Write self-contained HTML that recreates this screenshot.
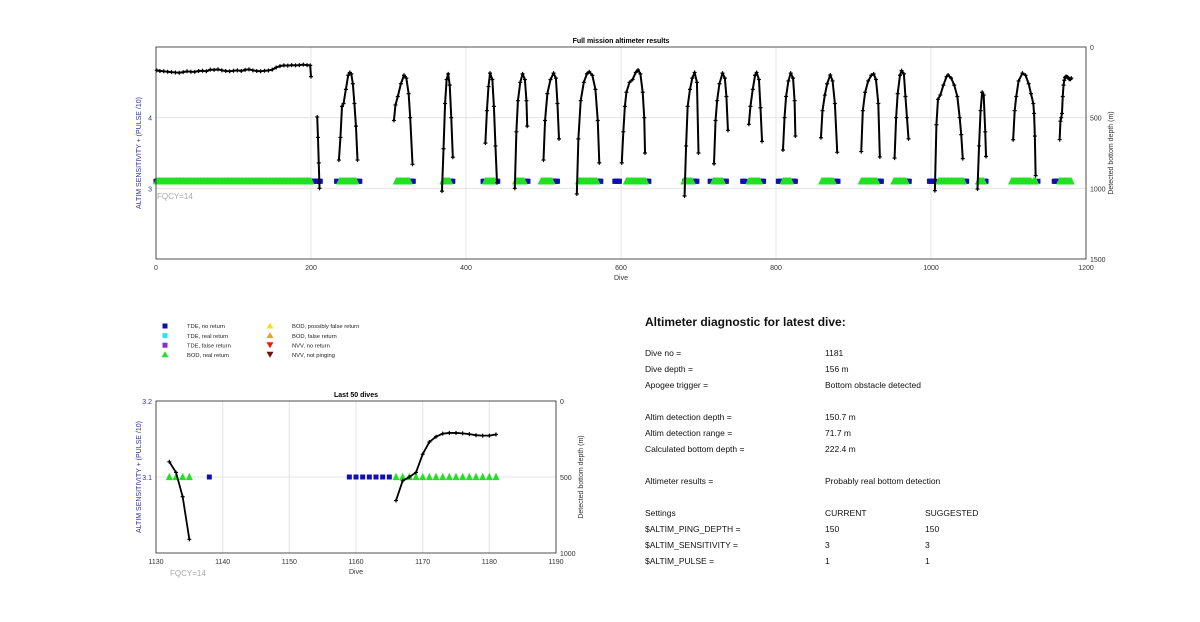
<!DOCTYPE html>
<html><head><meta charset="utf-8"><style>
body{margin:0;background:#fff;}
svg{display:block;font-family:"Liberation Sans",Arial,sans-serif;}
</style></head><body>
<svg id="chart" width="1200" height="622" viewBox="0 0 1200 622">
<g id="main"></g>
<g id="small"></g>
<g id="legend"></g>
<g id="diag" font-size="8.5" fill="#111">
<text x="645" y="326" font-size="12" font-weight="bold">Altimeter diagnostic for latest dive:</text>
</g>
</svg>
<script>
// ---- data ----
const traceDives = [1,5,10,15,20,25,30,35,40,45,50,55,60,65,70,75,80,85,90,95,100,105,110,115,120,125,130,135,140,145,150,155,160,165,170,175,180,185,190,195,199,200,null,
208,209,210,211,null,
236,238,240,242,245,248,250,252,254,256,258,260,null,
307,309,312,316,320,323,326,328,331,null,
369,371,373,375,377,379,381,383,null,
425,427,429,431,434,436,438,440,null,
463,465,467,470,473,476,478,479,null,
500,502,505,509,513,516,518,520,null,
543,545,548,552,556,559,563,567,570,572,null,
601,603,605,607,611,615,619,622,625,628,630,631,null,
682,684,686,689,692,695,698,700,null,
720,722,724,727,731,734,736,738,null,
765,767,770,773,775,778,780,782,null,
809,811,813,816,819,822,824,825,null,
858,860,863,866,870,873,876,879,null,
910,912,915,919,923,926,929,932,934,null,
953,955,957,960,962,965,967,969,971,null,
1005,1007,1009,1012,1016,1020,1022,1026,1030,1034,1037,1039,1041,null,
1060,1062,1064,1066,1068,1070,1071,null,
1106,1108,1110,1113,1118,1122,1126,1129,1132,1133,1134,1135,null,
1166,1167,1168,1169,1170,1171,1172,1173,1174,1175,1176,1177,1178,1179,1180,1181];
const traceDepths = [165,170,172,175,178,180,182,178,172,175,176,170,168,172,160,162,158,165,170,172,168,165,170,162,158,165,170,172,168,166,160,145,135,130,132,128,130,128,125,128,130,210,null,
495,640,820,1000,null,
800,640,420,400,300,200,180,190,260,400,560,800,null,
520,410,350,260,200,220,330,500,830,null,
1020,720,400,230,190,270,500,780,null,
680,450,280,185,230,420,700,960,null,
1000,600,380,250,190,230,380,560,null,
800,520,330,230,185,220,400,650,null,
1040,650,380,250,190,175,200,300,520,820,null,
820,600,420,320,250,230,180,163,190,320,500,750,null,
1054,700,420,300,220,180,250,750,null,
826,520,380,260,185,220,350,590,null,
547,420,300,200,180,230,430,668,null,
729,500,350,240,185,220,380,630,null,
642,450,340,260,198,240,400,745,null,
740,450,320,240,200,190,230,400,778,null,
786,500,330,200,167,190,350,500,650,null,
1016,550,370,340,270,210,198,220,270,350,500,620,790,null,
1005,700,450,320,340,600,775,null,
656,450,350,240,185,200,260,330,400,470,630,910,null,
655,525,500,470,350,270,235,215,210,210,213,218,225,228,228,220];
const blueStarts = [0,201,233,259,328,380,422,438,476,512,570,592,633,682,693,715,732,757,780,803,820,875,931,969,998,1043,1069,1138,1159];
const blueEnds   = [1,212,234,263,332,383,423,441,480,518,574,598,636,683,698,716,736,760,784,806,825,880,936,972,1005,1046,1071,1138,1165];
const greenStarts = [1,237,310,370,425,464,497,545,607,681,719,765,809,859,910,952,1010,1061,1104,1132,1166];
const greenEnds   = [200,258,327,379,437,475,511,569,632,692,731,779,819,874,930,968,1042,1068,1129,1135,1181];
const markerLevel = 3.1;
const mainXTicks = [0,200,400,600,800,1000,1200];
const mainYTicks = [3,4];
const mainDepthTicks = [0,500,1000,1500];
const smallXTicks = [1130,1140,1150,1160,1170,1180,1190];
const smallYTicks = [3.1,3.2];
const smallDepthTicks = [0,500,1000];
const legendLabels = ["TDE, no return","TDE, real return","TDE, false return","BOD, real return","BOD, possibly false return","BOD, false return","NVV, no return","NVV, not pinging"];
const diagLabels = ["Dive no =","Dive depth =","Apogee trigger =","Altim detection depth =","Altim detection range =","Calculated bottom depth =","Altimeter results =","Settings","$ALTIM_PING_DEPTH =","$ALTIM_SENSITIVITY =","$ALTIM_PULSE ="];
const diagCurrent = ["1181","156 m","Bottom obstacle detected","150.7 m","71.7 m","222.4 m","Probably real bottom detection","CURRENT","150","3","1"];
const diagSuggested = ["","","","","","","","SUGGESTED","150","3","1"];

const NS="http://www.w3.org/2000/svg";
function mk(parent,tag,attrs,txt){const e=document.createElementNS(NS,tag);for(const k in attrs)e.setAttribute(k,attrs[k]);if(txt!==undefined)e.textContent=txt;parent.appendChild(e);return e;}

function drawPlot(g,o){
  const X=d=>o.x0+(d-o.xmin)/(o.xmax-o.xmin)*(o.x1-o.x0);
  const YL=v=>o.y1-(v-o.lmin)/(o.lmax-o.lmin)*(o.y1-o.y0);
  const YD=v=>o.y0+(v-o.dmin)/(o.dmax-o.dmin)*(o.y1-o.y0);
  o.xt.forEach(t=>{const l=mk(g,'line',{x1:X(t),x2:X(t),y1:o.y0,y2:o.y1,stroke:'#e4e4e4','stroke-width':1});
    
    
    const tx=mk(g,'text',{x:X(t),y:o.y1+11,'font-size':7,'text-anchor':'middle',fill:'#333'},String(t));
    
    });
  o.yt.forEach(t=>{const l=mk(g,'line',{x1:o.x0,x2:o.x1,y1:YL(t),y2:YL(t),stroke:'#e4e4e4','stroke-width':1});
    
    
    const tx=mk(g,'text',{x:o.x0-4,y:YL(t)+3,'font-size':7,'text-anchor':'end',fill:'#3030a0'},String(t));
    
    });
  o.dt.forEach(t=>{const tx=mk(g,'text',{x:o.x1+4,y:YD(t)+3,'font-size':7,fill:'#333'},String(t));
    
    });
  const inX=d=>d>=o.xmin&&d<=o.xmax;
  const y31=YL(markerLevel);
  for(let i=0;i<blueStarts.length;i++)for(let d=blueStarts[i];d<=blueEnds[i];d++){if(!inX(d))continue;
    const r=mk(g,'rect',{x:X(d)-o.ms/2,y:y31-o.ms/2,width:o.ms,height:o.ms,fill:'#1010b0'});
    
    }
  for(let i=0;i<greenStarts.length;i++)for(let d=greenStarts[i];d<=greenEnds[i];d++){if(!inX(d))continue;
    const s=o.ts, cx=X(d);
    const p=mk(g,'polygon',{points:`${cx},${y31-s*0.6} ${cx-s/2},${y31+s*0.45} ${cx+s/2},${y31+s*0.45}`,fill:'#22e022'});
    
    }
  let pts=[];const flush=()=>{if(pts.length>1){const pl=mk(g,'polyline',{points:pts.join(' '),fill:'none',stroke:'#000','stroke-width':o.lw,'stroke-linejoin':'round'});
      
      }pts=[];};
  for(let i=0;i<traceDives.length;i++){const d=traceDives[i];
    if(d===null||!inX(d)){flush();continue;}
    const px=X(d),py=YD(traceDepths[i]);pts.push(px+','+py);
    const m=mk(g,'path',{d:`M${px-2},${py}h4M${px},${py-2}v4`,stroke:'#000','stroke-width':1.2});
    
    }
  flush();
  const b=mk(g,'rect',{x:o.x0,y:o.y0,width:o.x1-o.x0,height:o.y1-o.y0,fill:'none',stroke:'#262626','stroke-width':0.8});
  
  
  const t=mk(g,'text',{x:(o.x0+o.x1)/2,y:o.y0-4,'font-size':7,'font-weight':'bold','text-anchor':'middle'},o.title);
  
  
  const xl=mk(g,'text',{x:(o.x0+o.x1)/2,y:o.y1+21,'font-size':7,'text-anchor':'middle',fill:'#333'},'Dive');
  
  
  const cy=(o.y0+o.y1)/2;
  const yl=mk(g,'text',{x:o.x0-15,y:cy,'font-size':7,'text-anchor':'middle',fill:'#3030a0',transform:`rotate(-90 ${o.x0-15} ${cy})`},'ALTIM SENSITIVITY + (PULSE /10)');
  
  
  const dl=mk(g,'text',{x:o.x1+27,y:cy,'font-size':7,'text-anchor':'middle',fill:'#333',transform:`rotate(-90 ${o.x1+27} ${cy})`},'Detected bottom depth (m)');
  
  
  const fq=mk(g,'text',{x:o.fx,y:o.fy,'font-size':8,fill:'#aaa'},'FQCY=14');
  
  
}
drawPlot(document.getElementById('main'),{x0:156,x1:1086,y0:47,y1:259,xmin:0,xmax:1200,lmin:2,lmax:5,dmin:0,dmax:1500,
  xt:mainXTicks,yt:mainYTicks,dt:mainDepthTicks,ms:5,ts:7,lw:2,title:'Full mission altimeter results',fx:157,fy:199});
drawPlot(document.getElementById('small'),{x0:156,x1:556,y0:401,y1:553,xmin:1130,xmax:1190,lmin:3.0,lmax:3.2,dmin:0,dmax:1000,
  xt:smallXTicks,yt:smallYTicks,dt:smallDepthTicks,ms:5,ts:7,lw:1.8,title:'Last 50 dives',fx:170,fy:576});

const lg=document.getElementById('legend');
const legColors=['#1010b0','#30e0f0','#8030d0','#22e022','#f0e020','#f0a020','#e02010','#701010'];
const legShapes=['sq','sq','sq','up','up','up','dn','dn'];
legendLabels.forEach((lab,i)=>{
  const col=i<4?0:1,row=i%4;const mx=col?270:165,ty=326+row*9.6;
  let m;
  if(legShapes[i]==='sq')m=mk(lg,'rect',{x:mx-2.5,y:ty-2.5,width:5,height:5,fill:legColors[i]});
  else if(legShapes[i]==='up')m=mk(lg,'polygon',{points:`${mx},${ty-3.5} ${mx-3.5},${ty+2.5} ${mx+3.5},${ty+2.5}`,fill:legColors[i]});
  else m=mk(lg,'polygon',{points:`${mx},${ty+3} ${mx-3.5},${ty-3} ${mx+3.5},${ty-3}`,fill:legColors[i]});
  
  
  const t=mk(lg,'text',{x:col?292:187,y:ty+2.2,'font-size':5.8,fill:'#222'},lab);
  
  
});

const dg=document.getElementById('diag');
const rowY=[356,372,388,420,436,452,484,516,532,548,564];
diagLabels.forEach((lab,i)=>{
  const a=mk(dg,'text',{x:645,y:rowY[i]},lab);
  
  
  const b=mk(dg,'text',{x:825,y:rowY[i]},diagCurrent[i]);
  
  
  if(diagSuggested[i]){const c=mk(dg,'text',{x:925,y:rowY[i]},diagSuggested[i]);
  
  }
});
</script>
</body></html>
